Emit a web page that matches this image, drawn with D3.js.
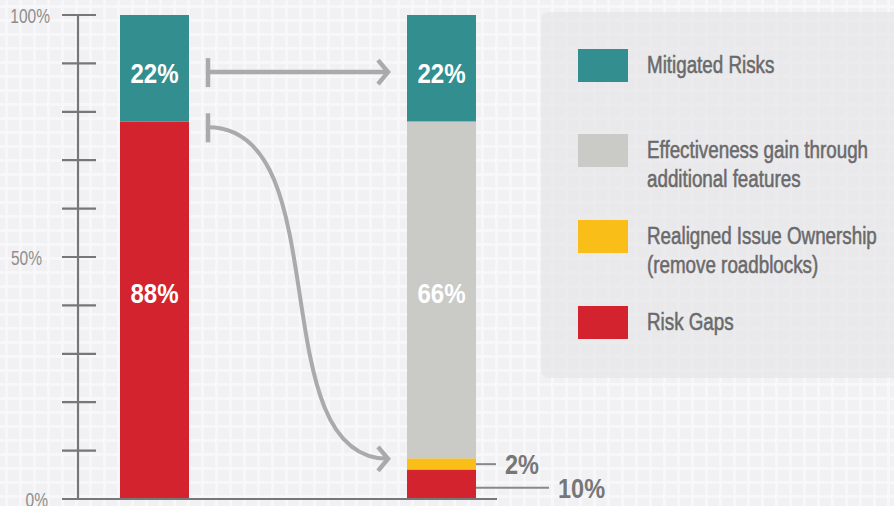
<!DOCTYPE html>
<html><head><meta charset="utf-8">
<script src="https://cdn.jsdelivr.net/npm/d3@7"></script>
<style>
html,body{margin:0;padding:0;background:#f2f2f4;}
svg{display:block;}
</style></head>
<body>
<svg id="chart" width="894" height="506"></svg>
<script>
// ---- data ----
const categories = ["Current", "Target"];
const seriesNames = ["Risk Gaps", "Realigned Issue Ownership (remove roadblocks)", "Effectiveness gain through additional features", "Mitigated Risks"];
const riskGaps      = [78, 6.1];
const realigned     = [0, 2.3];
const effectiveness = [0, 69.6];
const mitigated     = [22, 22];
const yTicks = [0,10,20,30,40,50,60,70,80,90,100];
const yTickLabels = {0:"0%", 50:"50%", 100:"100%"};
// in-bar labels: [category, text, position (%)]
const barLabels = [
  ["Current", "22%", 88], ["Current", "88%", 42.5],
  ["Target", "22%", 88], ["Target", "66%", 42.5]
];
// side call-outs for the target bar: text, leader position (%)
const calloutText = ["2%", "10%"];
const calloutAt = [7.2, 2.3];
const legendLines = [
  ["Mitigated Risks"],
  ["Effectiveness gain through", "additional features"],
  ["Realigned Issue Ownership", "(remove roadblocks)"],
  ["Risk Gaps"]
];

const colors = {
  "Mitigated Risks": "#338e90",
  "Effectiveness gain through additional features": "#cacac6",
  "Realigned Issue Ownership (remove roadblocks)": "#f9be17",
  "Risk Gaps": "#d2232f"
};
const legendOrder = ["Mitigated Risks", "Effectiveness gain through additional features", "Realigned Issue Ownership (remove roadblocks)", "Risk Gaps"];

// layout (not data): right edge of each axis label
const axisLabelRight = {0:48, 50:42, 100:50};

const FONT = "'Liberation Sans Narrow','Arial Narrow','Liberation Sans',Arial,sans-serif";
const svg = d3.select("#chart");
const W = 894, H = 506;

function ctext(g, x, y, str, sx) {
  return g.append("text").attr("transform", `translate(${x},${y}) scale(${sx},1)`)
    .attr("font-family", FONT).text(str);
}

// background texture
const defs = svg.append("defs");
const pat = defs.append("pattern").attr("id","bgpat").attr("width",14).attr("height",14).attr("patternUnits","userSpaceOnUse");
pat.append("rect").attr("width",14).attr("height",14).attr("fill","#f1f1f3");
pat.append("rect").attr("x",0).attr("y",5).attr("width",14).attr("height",3).attr("fill","#f9f9fa").attr("opacity",0.8);
pat.append("rect").attr("x",5).attr("y",0).attr("width",3).attr("height",14).attr("fill","#f9f9fa").attr("opacity",0.8);
svg.append("rect").attr("width",W).attr("height",H).attr("fill","url(#bgpat)");

// scales
const y = d3.scaleLinear().domain([0,100]).range([499,15]);
const x = d3.scalePoint().domain(categories).range([154.5,441.5]);
const barW = 69;

// legend panel
svg.append("rect").attr("x",541).attr("y",12).attr("width",420).attr("height",366)
  .attr("rx",8).attr("fill","#e6e6e8").attr("opacity",0.7);

// stacked data
const table = categories.map((c,i)=>({
  cat:c,
  "Risk Gaps": riskGaps[i],
  "Realigned Issue Ownership (remove roadblocks)": realigned[i],
  "Effectiveness gain through additional features": effectiveness[i],
  "Mitigated Risks": mitigated[i]
}));
const stack = d3.stack().keys(seriesNames)(table);

svg.append("g").selectAll("g").data(stack).join("g")
  .attr("fill", d=>colors[d.key])
  .selectAll("rect").data(d=>d).join("rect")
  .attr("x", d=>x(d.data.cat)-barW/2)
  .attr("width", barW)
  .attr("y", d=>y(d[1]))
  .attr("height", d=>y(d[0])-y(d[1]));

// axis
const axisG = svg.append("g");
axisG.append("line").attr("x1",78).attr("x2",78).attr("y1",y(100)).attr("y2",y(0))
  .attr("stroke","#777").attr("stroke-width",2.2);
axisG.selectAll("line.tick").data(yTicks).join("line").attr("class","tick")
  .attr("x1",62).attr("x2",96).attr("y1",d=>y(d)).attr("y2",d=>y(d))
  .attr("stroke","#777").attr("stroke-width",2.2);
svg.append("line").attr("x1",62).attr("x2",497).attr("y1",y(0)).attr("y2",y(0))
  .attr("stroke","#777").attr("stroke-width",2.2);
const yAxis = d3.axisLeft(y).tickValues(Object.keys(yTickLabels).map(Number))
  .tickFormat(d=>yTickLabels[d]).tickSize(0).tickPadding(0);
const ax = svg.append("g").call(yAxis);
ax.select(".domain").remove();
ax.selectAll(".tick text")
  .attr("x",0).attr("dy",null).attr("y",null)
  .attr("transform",d=>`translate(${axisLabelRight[d]},7.5) scale(0.74,1)`)
  .attr("text-anchor","end")
  .attr("font-family",FONT).attr("font-size",21).attr("fill","#8e8e8e");

// in-bar labels
const lblG = svg.append("g");
barLabels.forEach(d=>{
  ctext(lblG, x(d[0]), y(d[2])+10, d[1], 0.86)
    .attr("text-anchor","middle").attr("font-weight","bold")
    .attr("font-size",28).attr("fill","#fff");
});

// callouts
const bx = x("Target")+barW/2;
const cLen = [20, 73];
const cg = svg.append("g");
calloutText.forEach((t,i)=>{
  cg.append("line").attr("x1",bx).attr("x2",bx+cLen[i]).attr("y1",y(calloutAt[i])).attr("y2",y(calloutAt[i]))
    .attr("stroke","#888").attr("stroke-width",2);
  ctext(cg, bx+cLen[i]+9, y(calloutAt[i])+10, t, 0.84)
    .attr("font-weight","bold").attr("font-size",28).attr("fill","#777");
});

// arrows
const ag = svg.append("g").attr("stroke","#aaa").attr("fill","none").attr("stroke-width",4.5);
const ax0 = x("Current")+barW/2+19;
const yA = y(88.2), yB = y(76.8);
ag.append("line").attr("x1",ax0).attr("x2",ax0).attr("y1",yA-14).attr("y2",yA+15);
ag.append("line").attr("x1",ax0).attr("x2",x("Target")-barW/2-20).attr("y1",yA).attr("y2",yA);
const tip1x = x("Target")-barW/2-19;
ag.append("path").attr("d",`M${tip1x-10},${yA-12}L${tip1x},${yA}L${tip1x-10},${yA+12}`);
ag.append("line").attr("x1",ax0).attr("x2",ax0).attr("y1",yB-14).attr("y2",yB+15);
const yEnd = y(8.3);
ag.append("path").attr("d",`M${ax0},${yB}C${ax0+132},${yB} ${ax0+52},${yEnd} ${tip1x},${yEnd}`).attr("stroke-width",4);
ag.append("path").attr("d",`M${tip1x-10},${yEnd-12}L${tip1x},${yEnd}L${tip1x-10},${yEnd+12}`);

// legend
const lg = svg.append("g");
const lTops = [49,134,220,306];
legendOrder.forEach((k,i)=>{
  lg.append("rect").attr("x",578).attr("y",lTops[i]).attr("width",50).attr("height",33).attr("fill",colors[k]);
  legendLines[i].forEach((ln,j)=>{
    ctext(lg, 647, lTops[i]+24+j*29, ln, 0.8)
      .attr("font-size",23.5).attr("fill","#6a6a6a").attr("stroke","#6a6a6a").attr("stroke-width",0.55);
  });
});
</script>
</body></html>
